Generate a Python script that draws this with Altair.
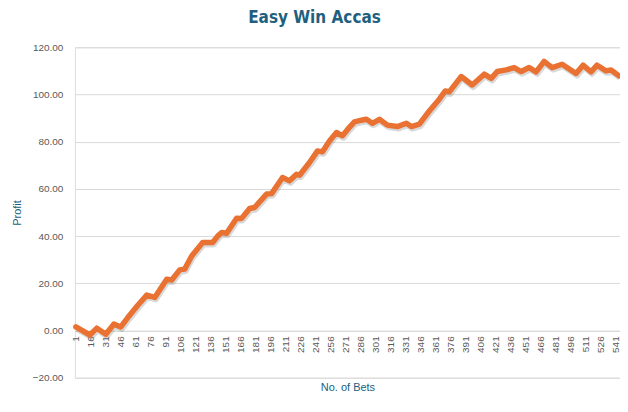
import altair as alt
import pandas as pd

bets = [1, 15, 22, 31, 39, 46, 53, 63, 72, 80, 92, 97, 105, 110, 117, 128, 138,
        143, 147, 152, 162, 167, 175, 180, 192, 197, 208, 215, 222, 225, 235,
        243, 248, 255, 262, 268, 274, 280, 287, 292, 298, 305, 313, 323, 332,
        337, 345, 355, 365, 371, 375, 387, 398, 410, 417, 423, 432, 440, 447,
        455, 462, 470, 478, 488, 502, 509, 517, 523, 532, 537, 545]
profit = [1.5, -1.9, 1.0, -1.6, 2.7, 1.5, 5.5, 10.7, 15.0, 14.0, 21.7, 21.4,
          25.7, 26.0, 31.6, 37.3, 37.3, 40.0, 41.5, 41.2, 47.6, 47.5, 51.7,
          52.1, 57.8, 58.0, 64.8, 63.4, 66.2, 65.8, 71.2, 76.1, 75.7, 80.3,
          83.9, 82.5, 85.6, 88.4, 89.1, 89.5, 87.8, 89.5, 87.0, 86.4, 87.8,
          86.4, 87.4, 93.0, 98.0, 101.5, 101.1, 107.6, 104.0, 108.6, 106.8,
          109.7, 110.4, 111.4, 109.7, 111.4, 109.6, 114.0, 111.4, 112.8, 108.9,
          112.4, 109.6, 112.4, 110.0, 110.4, 107.9]
x_ticks = list(range(1, 542, 15))
y_ticks = [-20, 0, 20, 40, 60, 80, 100, 120]

df = pd.DataFrame({"bet": bets, "profit": profit})

TEAL = "#215F80"
GRAY = "#595959"
FONT = "Liberation Sans"

x_enc = alt.X("bet:Q", scale=alt.Scale(domain=[0, 546], nice=False, zero=False),
              axis=alt.Axis(values=x_ticks, title="No. of Bets", labelAngle=-90,
                            labelAlign="right", labelBaseline="middle",
                            labelFontSize=10, labelColor=GRAY, labelFont=FONT,
                            labelPadding=5, ticks=False, grid=False,
                            domainColor="#D9D9D9", offset=-47,
                            labelOverlap=False, labelFlush=False,
                            titleColor=TEAL, titleFont=FONT, titleFontSize=11,
                            titleFontWeight="normal", titleY=57,
                            titleBaseline="middle"))
y_enc = alt.Y("profit:Q", scale=alt.Scale(domain=[-20, 120], nice=False),
              axis=alt.Axis(values=y_ticks, format=".2f", title="Profit",
                            labelFontSize=10, labelColor=GRAY, labelFont=FONT,
                            labelPadding=12, ticks=False, domain=False,
                            gridColor="#D9D9D9", gridWidth=1,
                            titleColor=TEAL, titleFont=FONT, titleFontSize=11,
                            titleFontWeight="normal", titleX=-57, titleY=165.5,
                            titleAngle=-90, titleBaseline="middle",
                            titleAlign="center"))

shadow = alt.Chart(df).mark_line(color="#7F7F7F", opacity=0.3, strokeWidth=6,
                                 strokeJoin="round", yOffset=2, xOffset=1).encode(
    x=x_enc, y=y_enc)
line = alt.Chart(df).mark_line(color="#E97132", strokeWidth=5.5,
                               strokeJoin="round", strokeCap="round").encode(
    x=x_enc, y=y_enc)

chart = alt.layer(shadow, line).properties(
    width=546, height=331,
    title=alt.TitleParams("Easy Win Accas",
                          font="DejaVu Sans Condensed, Roboto, sans-serif",
                          fontSize=17, fontWeight="bold", color=TEAL,
                          anchor="middle", offset=24, baseline="alphabetic",
                          dx=-33, dy=22),
    autosize=alt.AutoSizeParams(type="none"),
    padding={"left": 67, "top": 39, "right": 0, "bottom": 30},
).configure_view(stroke=None).configure(background="white")

chart.save("out.html", embed_options={"renderer": "svg", "actions": False})
